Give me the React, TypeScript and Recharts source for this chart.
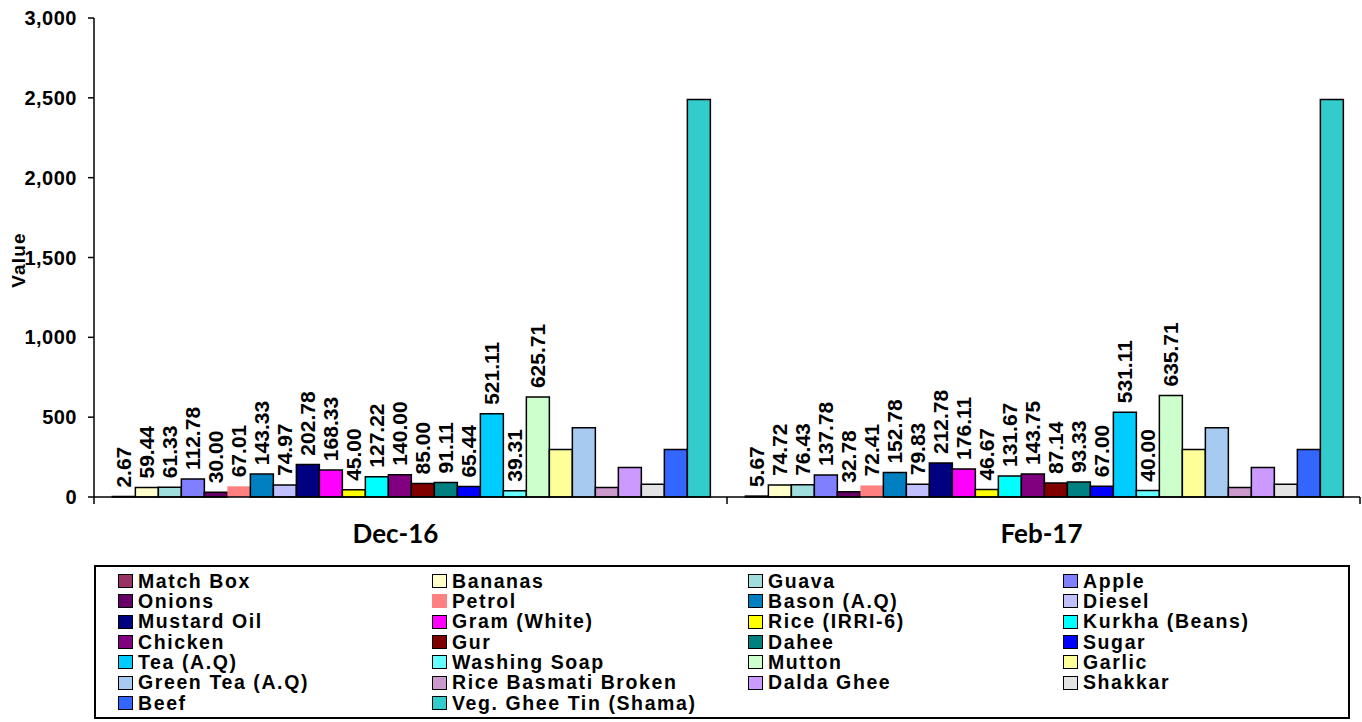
import React from 'react';
import { BarChart, Bar, XAxis, YAxis, LabelList } from 'recharts';

// Periods on the x axis
const periods = ['Dec-16', 'Feb-17'];

// Items, in legend order
const items = [
  'Match Box', 'Bananas', 'Guava', 'Apple',
  'Onions', 'Petrol', 'Bason (A.Q)', 'Diesel',
  'Mustard Oil', 'Gram (White)', 'Rice (IRRI-6)', 'Kurkha (Beans)',
  'Chicken', 'Gur', 'Dahee', 'Sugar',
  'Tea (A.Q)', 'Washing Soap', 'Mutton', 'Garlic',
  'Green Tea (A.Q)', 'Rice Basmati Broken', 'Dalda Ghee', 'Shakkar',
  'Beef', 'Veg. Ghee Tin (Shama)',
];

const colors = [
  '#993366', '#ffffcc', '#a0dede', '#8080ff',
  '#660066', '#ff8080', '#0080c0', '#c0c0ff',
  '#000080', '#ff00ff', '#ffff00', '#00ffff',
  '#800080', '#800000', '#008080', '#0000ff',
  '#00ccff', '#66ffff', '#ccffcc', '#ffff99',
  '#a6caf0', '#cc99cc', '#cc99ff', '#e3e3e3',
  '#3366ff', '#33cccc',
];

// Values per period (the last 7 have no printed label)
const dec16 = [
  2.67, 59.44, 61.33, 112.78, 30.0, 67.01, 143.33, 74.97, 202.78, 168.33,
  45.0, 127.22, 140.0, 85.0, 91.11, 65.44, 521.11, 39.31, 625.71,
  297, 433, 59, 185, 80, 297, 2490,
];
const feb17 = [
  5.67, 74.72, 76.43, 137.78, 32.78, 72.41, 152.78, 79.83, 212.78, 176.11,
  46.67, 131.67, 143.75, 87.14, 93.33, 67.0, 531.11, 40.0, 635.71,
  297, 433, 59, 185, 80, 297, 2490,
];

// Only the first 19 series carry data labels
const labelledCount = 19;

const yTicks = [0, 500, 1000, 1500, 2000, 2500, 3000];

const valuesByPeriod = [dec16, feb17];
const data = periods.map((p, pi) => {
  const row: any = { period: p };
  items.forEach((name, i) => {
    row['s' + i] = valuesByPeriod[pi][i];
  });
  return row;
});

const FONT = '"Liberation Sans", Arial, sans-serif';

const BarLabel = (props: any) => {
  const { x, y, width, value } = props;
  const cx = x + width / 2;
  const ty = y - 9;
  return (
    <text
      x={cx}
      y={ty}
      transform={`rotate(-90, ${cx}, ${ty})`}
      textAnchor="start"
      dominantBaseline="central"
      fontFamily={FONT}
      fontWeight="bold"
      fontSize={21}
      fill="#000"
    >
      {Number(value).toFixed(2)}
    </text>
  );
};

const halfBand = 633 / 2;

const PeriodTick = (props: any) => {
  const { x, y, payload, index } = props;
  return (
    <g>
      <line x1={x - halfBand} y1={y} x2={x - halfBand} y2={y + 7} stroke="#000" strokeWidth={1.5} />
      {index === periods.length - 1 && (
        <line x1={x + halfBand} y1={y} x2={x + halfBand} y2={y + 7} stroke="#000" strokeWidth={1.5} />
      )}
      <text
        x={x}
        dx={index === 0 ? -15 : -2}
        y={y + 46}
        textAnchor="middle"
        fontFamily="Lato, sans-serif"
        fontWeight="bold"
        fontSize={26}
        fill="#000"
      >
        {payload.value}
      </text>
    </g>
  );
};

const ValueLabel = () => (
  <text
    x={18}
    y={260}
    transform="rotate(-90, 18, 260)"
    textAnchor="middle"
    dominantBaseline="central"
    fontFamily={FONT}
    fontWeight="bold"
    fontSize={19}
    letterSpacing={1.2}
    fill="#000"
  >
    Value
  </text>
);

function LegendBox() {
  return (
    <div
      style={{
        position: 'absolute',
        left: 94,
        top: 565,
        width: 1256,
        height: 154,
        boxSizing: 'border-box',
        border: '2px solid #000',
        background: '#fff',
        paddingLeft: 22,
        paddingTop: 4,
        display: 'grid',
        gridTemplateColumns: '314px 316px 315px 270px',
        gridAutoRows: '20.33px',
        fontFamily: FONT,
        fontWeight: 'bold',
        fontSize: 19.5,
        letterSpacing: 1.6,
        color: '#000',
      }}
    >
      {items.map((name, i) => (
        <div key={name} style={{ display: 'flex', alignItems: 'center', whiteSpace: 'nowrap' }}>
          <span
            style={{
              display: 'inline-block',
              flex: 'none',
              width: 15,
              height: 14,
              boxSizing: 'border-box',
              background: colors[i],
              border: name === 'Petrol' ? 'none' : '1.7px solid #000',
              marginRight: 5,
            }}
          />
          {name}
        </div>
      ))}
    </div>
  );
}

export default function App() {
  return (
    <div style={{ position: 'absolute', left: 0, top: 0, width: 1362, height: 722, background: '#fff' }}>
      <BarChart
        width={1362}
        height={722}
        data={data}
        margin={{ top: 18, right: 2, bottom: 165, left: 0 }}
        barCategoryGap="2.9%"
        barGap={0}
      >
        <XAxis
          dataKey="period"
          height={60}
          tickLine={false}
          tickSize={0}
          tickMargin={0}
          axisLine={{ stroke: '#000', strokeWidth: 1.5 }}
          tick={<PeriodTick />}
          interval={0}
        />
        <YAxis
          width={94}
          domain={[0, 3000]}
          ticks={yTicks}
          tickFormatter={(v: number) => v.toLocaleString('en-US')}
          tickSize={6}
          tickMargin={11}
          tickLine={{ stroke: '#000', strokeWidth: 1.5 }}
          axisLine={{ stroke: '#000', strokeWidth: 1.5 }}
          tick={{ fill: '#000', fontFamily: FONT, fontWeight: 'bold', fontSize: 20, letterSpacing: 0.5 }}
          label={<ValueLabel />}
        />
        {items.map((name, i) => (
          <Bar
            key={name}
            dataKey={'s' + i}
            name={name}
            fill={colors[i]}
            stroke={name === 'Petrol' ? 'none' : '#000'}
            strokeWidth={1.5}
            isAnimationActive={false}
          >
            {i < labelledCount && <LabelList dataKey={'s' + i} content={<BarLabel />} />}
          </Bar>
        ))}
      </BarChart>
      <LegendBox />
    </div>
  );
}
